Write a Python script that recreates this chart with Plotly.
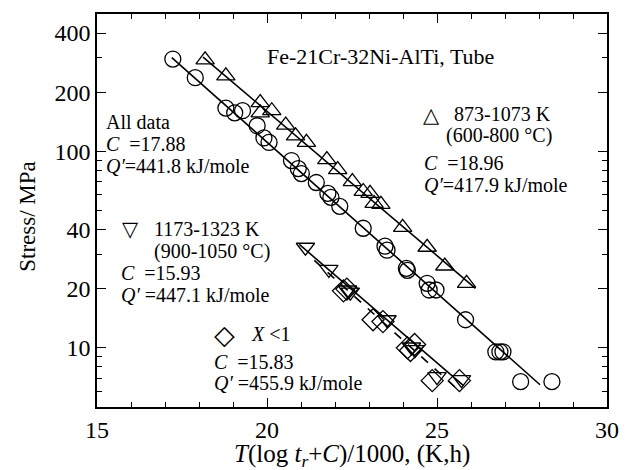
import plotly.graph_objects as go

# ---- data ----
circ_x = [17.23, 17.89, 18.79, 19.28, 19.05, 19.71, 19.91, 20.06, 20.72, 20.92, 21.01, 21.45, 21.79,
          21.88, 22.14, 22.83, 23.47, 23.53, 24.10, 24.13, 24.71, 24.77, 24.97, 25.84, 26.73, 26.85,
          26.94, 27.46, 28.38]
circ_y = [295, 237, 166, 161, 157, 135, 117, 111, 89.8, 81.7, 77.1, 69.4, 61.1,
          58.3, 52.5, 40.6, 32.9, 31.4, 25.4, 24.8, 21.3, 19.7, 19.7, 13.9, 9.55, 9.55,
          9.55, 6.73, 6.73]

tri_up_x = [18.18, 18.79, 19.80, 20.14, 19.80, 20.55, 20.84, 21.16, 21.76, 22.08, 22.51, 22.83,
            23.03, 23.15, 23.35, 23.99, 24.71, 25.23, 25.87]
tri_up_y = [292, 242, 177, 161, 157, 136, 120, 111, 90.8, 80.7, 70.2, 62.5,
            61.1, 54.3, 53.7, 41.0, 32.5, 26.1, 21.3]

tri_dn_x = [21.13, 21.82, 22.37, 22.45, 23.53, 24.25, 24.35, 25.00, 25.72]
tri_dn_y = [32.5, 25.1, 19.7, 19.2, 13.9, 10.1, 9.8, 7.13, 6.89]

dia_x = [22.25, 22.35, 23.12, 23.41, 24.13, 24.22, 24.34, 24.86, 25.66]
dia_y = [19.5, 19.9, 13.9, 13.6, 10.0, 9.7, 10.4, 6.81, 6.81]

fit_all_x = [17.2, 28.03]
fit_all_y = [300, 6.49]
fit_low_x = [18.12, 26.13]
fit_low_y = [302, 20.1]
fit_high_x = [20.95, 25.78]
fit_high_y = [33.6, 6.42]
fit_x1_x = [21.39, 25.55]
fit_x1_y = [27.9, 6.27]

x_ticks = [15, 20, 25, 30]
x_minor = [16, 17, 18, 19, 21, 22, 23, 24, 26, 27, 28, 29]
y_ticks = [10, 20, 40, 100, 200, 400]
y_minor = [6, 7, 8, 9, 30, 50, 60, 70, 80, 90, 300]

FONT = "Liberation Serif"

fig = go.Figure()

def line(x, y, dash="solid"):
    fig.add_trace(go.Scatter(x=x, y=y, mode="lines", line=dict(color="black", width=1.6, dash=dash),
                             showlegend=False, hoverinfo="skip"))

line(fit_all_x, fit_all_y)
line(fit_low_x, fit_low_y)
line(fit_high_x, fit_high_y)
line(fit_x1_x, fit_x1_y, dash="dash")

def pts(x, y, sym, size):
    fig.add_trace(go.Scatter(x=x, y=y, mode="markers",
                             marker=dict(symbol=sym, size=size, color="black",
                                         line=dict(color="black", width=1.3)),
                             showlegend=False))

pts(circ_x, circ_y, "circle-open", 16)
pts(tri_up_x, tri_up_y, "triangle-up-open", 16)
pts(tri_dn_x, tri_dn_y, "triangle-down-open", 16)
pts(dia_x, dia_y, "diamond-open", 17)

# paper coords helpers: plot area x 97..616, y 13..407 (pixels)
def px(xp):
    return (xp - 97) / (616 - 97)

def py(yp):
    return (407 - yp) / (407 - 13)

def txt(x, y, s, size=20, anchor="left", angle=0, family=FONT):
    fig.add_annotation(x=px(x), y=py(y), xref="paper", yref="paper", text=s, showarrow=False,
                       xanchor=anchor, yanchor="middle", textangle=angle,
                       font=dict(family=family, size=size, color="black"))

txt(268, 56, "Fe-21Cr-32Ni-AlTi, Tube", size=22)

txt(104, 121, "All data")
txt(104, 143, "<i>C</i>  =17.88")
txt(104, 165, "<i>Q′</i>=441.8 kJ/mole")

txt(437, 114, "△", size=21, anchor="center", family="DejaVu Sans")
txt(458, 113, "873-1073 K")
txt(450, 135, "(600-800 °C)")
txt(428, 162, "<i>C</i>  =18.96")
txt(428, 184, "<i>Q′</i>=417.9 kJ/mole")

txt(131, 229, "▽", size=21, anchor="center", family="DejaVu Sans")
txt(153, 229, "1173-1323 K")
txt(153, 251, "(900-1050 °C)")
txt(119, 273, "<i>C</i>  =15.93")
txt(119, 295, "<i>Q′</i> =447.1 kJ/mole")

txt(227, 334, "◇", size=27, anchor="center", family="DejaVu Sans")
txt(252, 334, "<i>X</i> <1")
txt(214, 362, "<i>C</i>  =15.83")
txt(214, 383, "<i>Q′</i> =455.9 kJ/mole")

# axis titles
txt(356, 456, "<i>T</i>(log <i>t<sub>r</sub></i>+<i>C</i>)/1000, (K,h)", size=25, anchor="center")
txt(26, 216, "Stress/ MPa", size=23, anchor="center", angle=-90)

axis_common = dict(showline=True, linecolor="black", linewidth=1.5, mirror="ticks",
                   ticks="inside", tickcolor="black", tickwidth=1.3, ticklen=9,
                   showgrid=False, zeroline=False,
                   tickfont=dict(family=FONT, size=24, color="black"))

fig.update_xaxes(range=[15, 30], tickmode="array", tickvals=x_ticks,
                 ticktext=[str(v) for v in x_ticks],
                 minor=dict(tickmode="array", tickvals=x_minor, ticks="inside", ticklen=5,
                            tickcolor="black", tickwidth=1.2, showgrid=False),
                 **axis_common)
fig.update_yaxes(type="log", range=[0.69897, 2.69897], tickmode="array", tickvals=y_ticks,
                 ticktext=[str(v) for v in y_ticks],
                 minor=dict(tickmode="array", tickvals=y_minor, ticks="inside", ticklen=5,
                            tickcolor="black", tickwidth=1.2, showgrid=False),
                 **axis_common)

fig.update_layout(width=631, height=470, margin=dict(l=97, r=15, t=13, b=63),
                  plot_bgcolor="white", paper_bgcolor="white", showlegend=False)

fig.write_html("out.html")
